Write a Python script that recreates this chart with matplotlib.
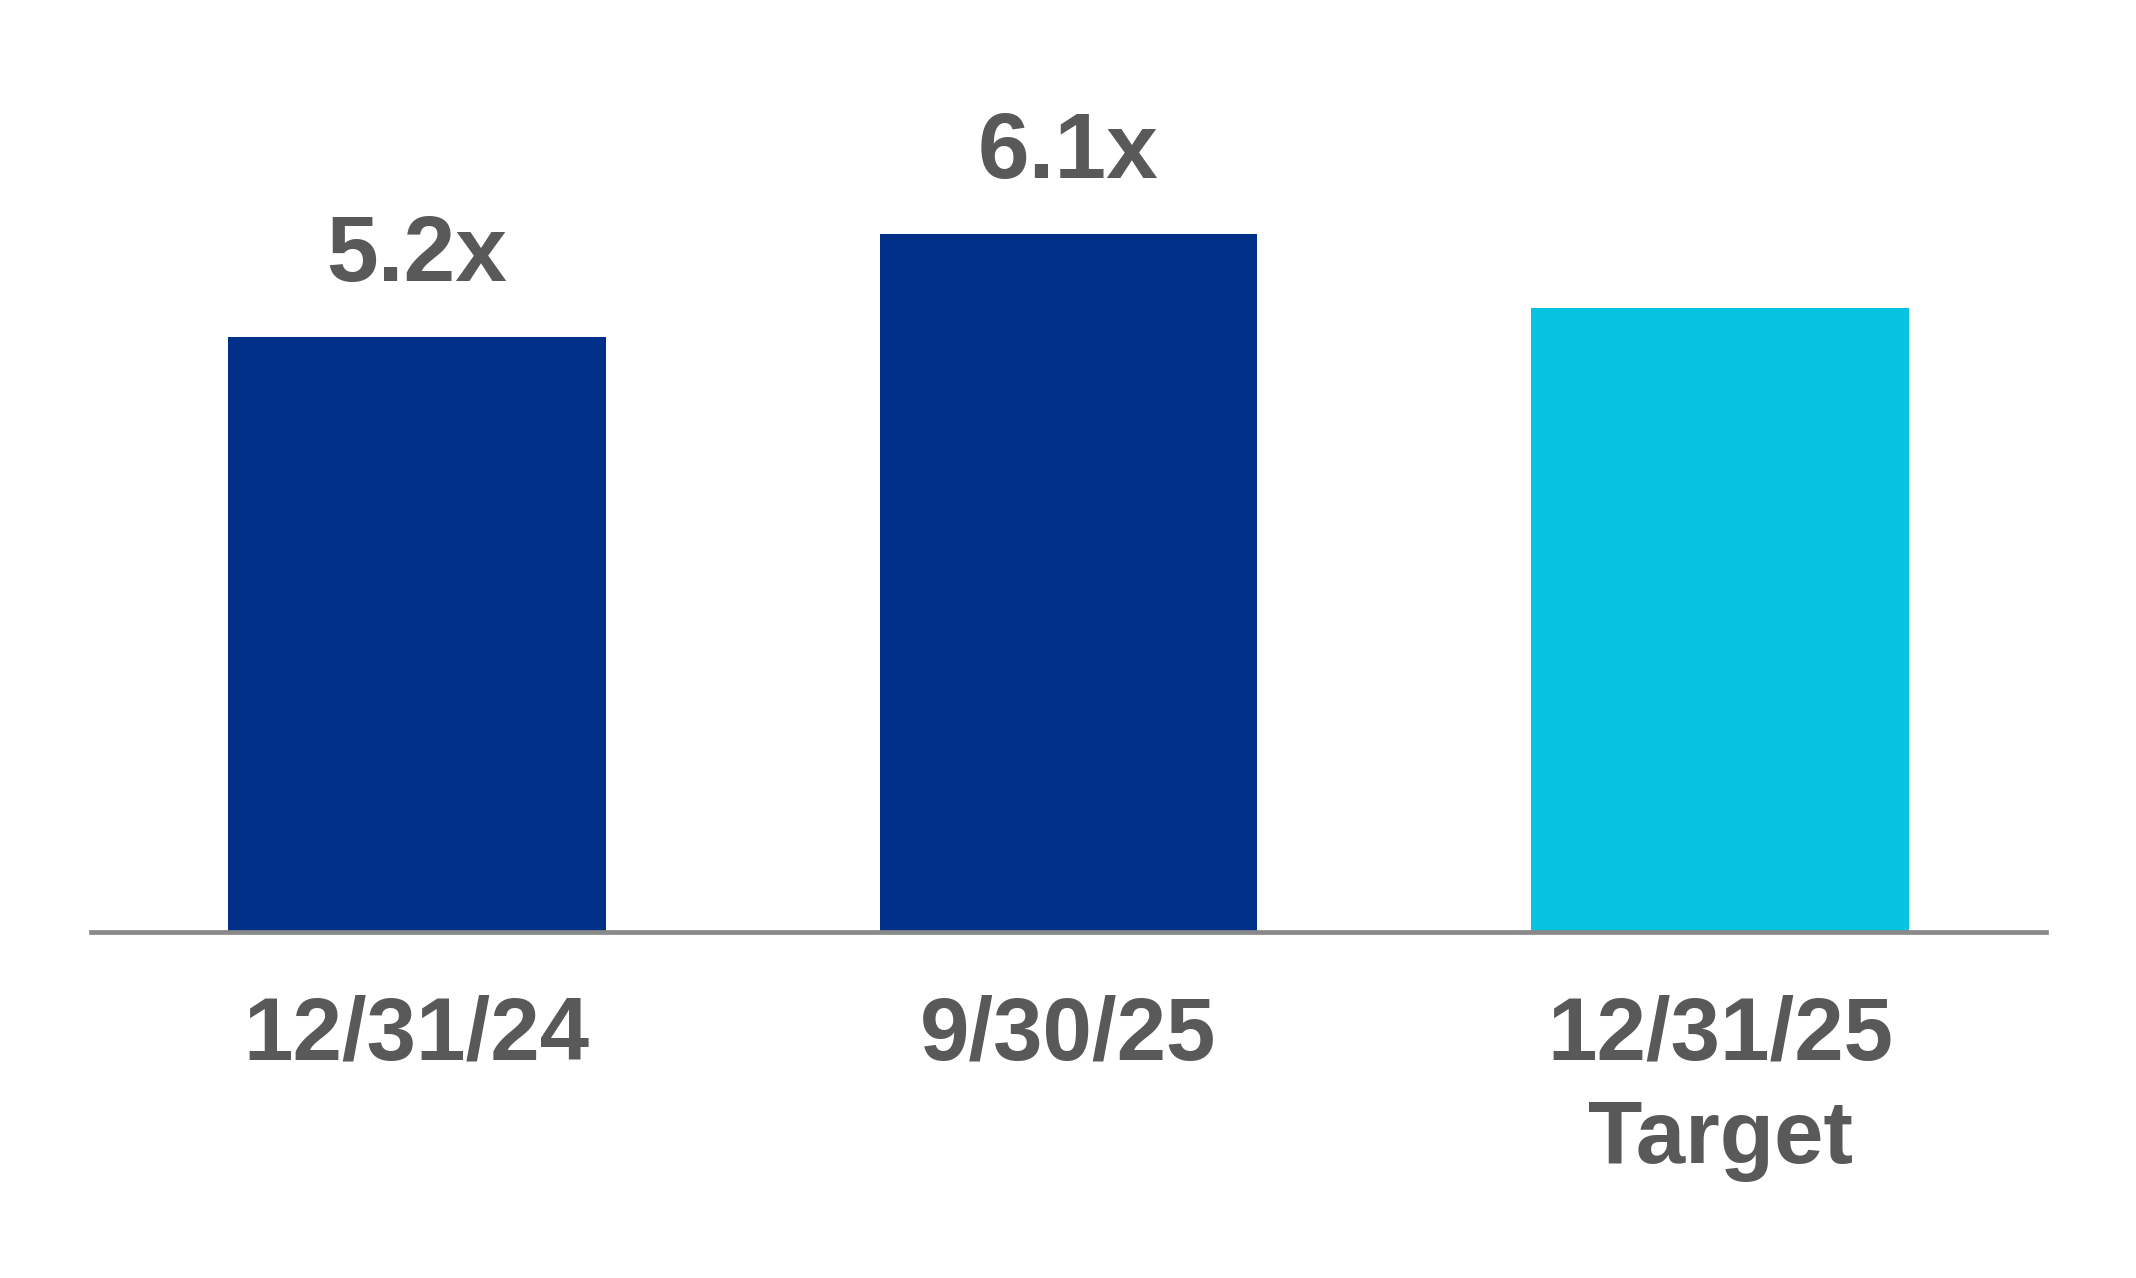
import matplotlib
matplotlib.use("Agg")
import matplotlib.pyplot as plt

categories = ["12/31/24", "9/30/25", "12/31/25\nTarget"]
values = [5.2, 6.1, 5.45]
value_labels = ["5.2x", "6.1x", ""]
colors = ["#003087", "#003087", "#07C3E0"]

TEXT = "#595959"
FONT = "Liberation Sans"

fig = plt.figure(figsize=(21.36, 12.78), dpi=100)
ax = fig.add_axes([91 / 2136, (1278 - 932) / 1278, (2046 - 91) / 2136, 932 / 1278])

x = range(len(categories))
ax.bar(x, values, width=0.58, color=colors, zorder=1)

for xi, v, lab in zip(x, values, value_labels):
    if lab:
        ax.annotate(lab, (xi, v), xytext=(0, 40), textcoords="offset points",
                    ha="center", va="baseline", fontsize=67, fontweight="bold",
                    color=TEXT, family=FONT)

ax.set_xlim(-0.5, 2.5)
ax.set_ylim(0, 932 / 114.5)
ax.set_xticks(list(x))
ax.set_xticklabels(categories, fontsize=64, fontweight="bold", color=TEXT,
                   family=FONT, linespacing=1.3)
ax.tick_params(axis="x", length=0, pad=45)
ax.set_yticks([])
for s in ["top", "left", "right"]:
    ax.spines[s].set_visible(False)
ax.spines["bottom"].set_color("#898989")
ax.spines["bottom"].set_linewidth(3.4)
ax.spines["bottom"].set_zorder(3)

fig.savefig("out.png", dpi=100, facecolor="white")
